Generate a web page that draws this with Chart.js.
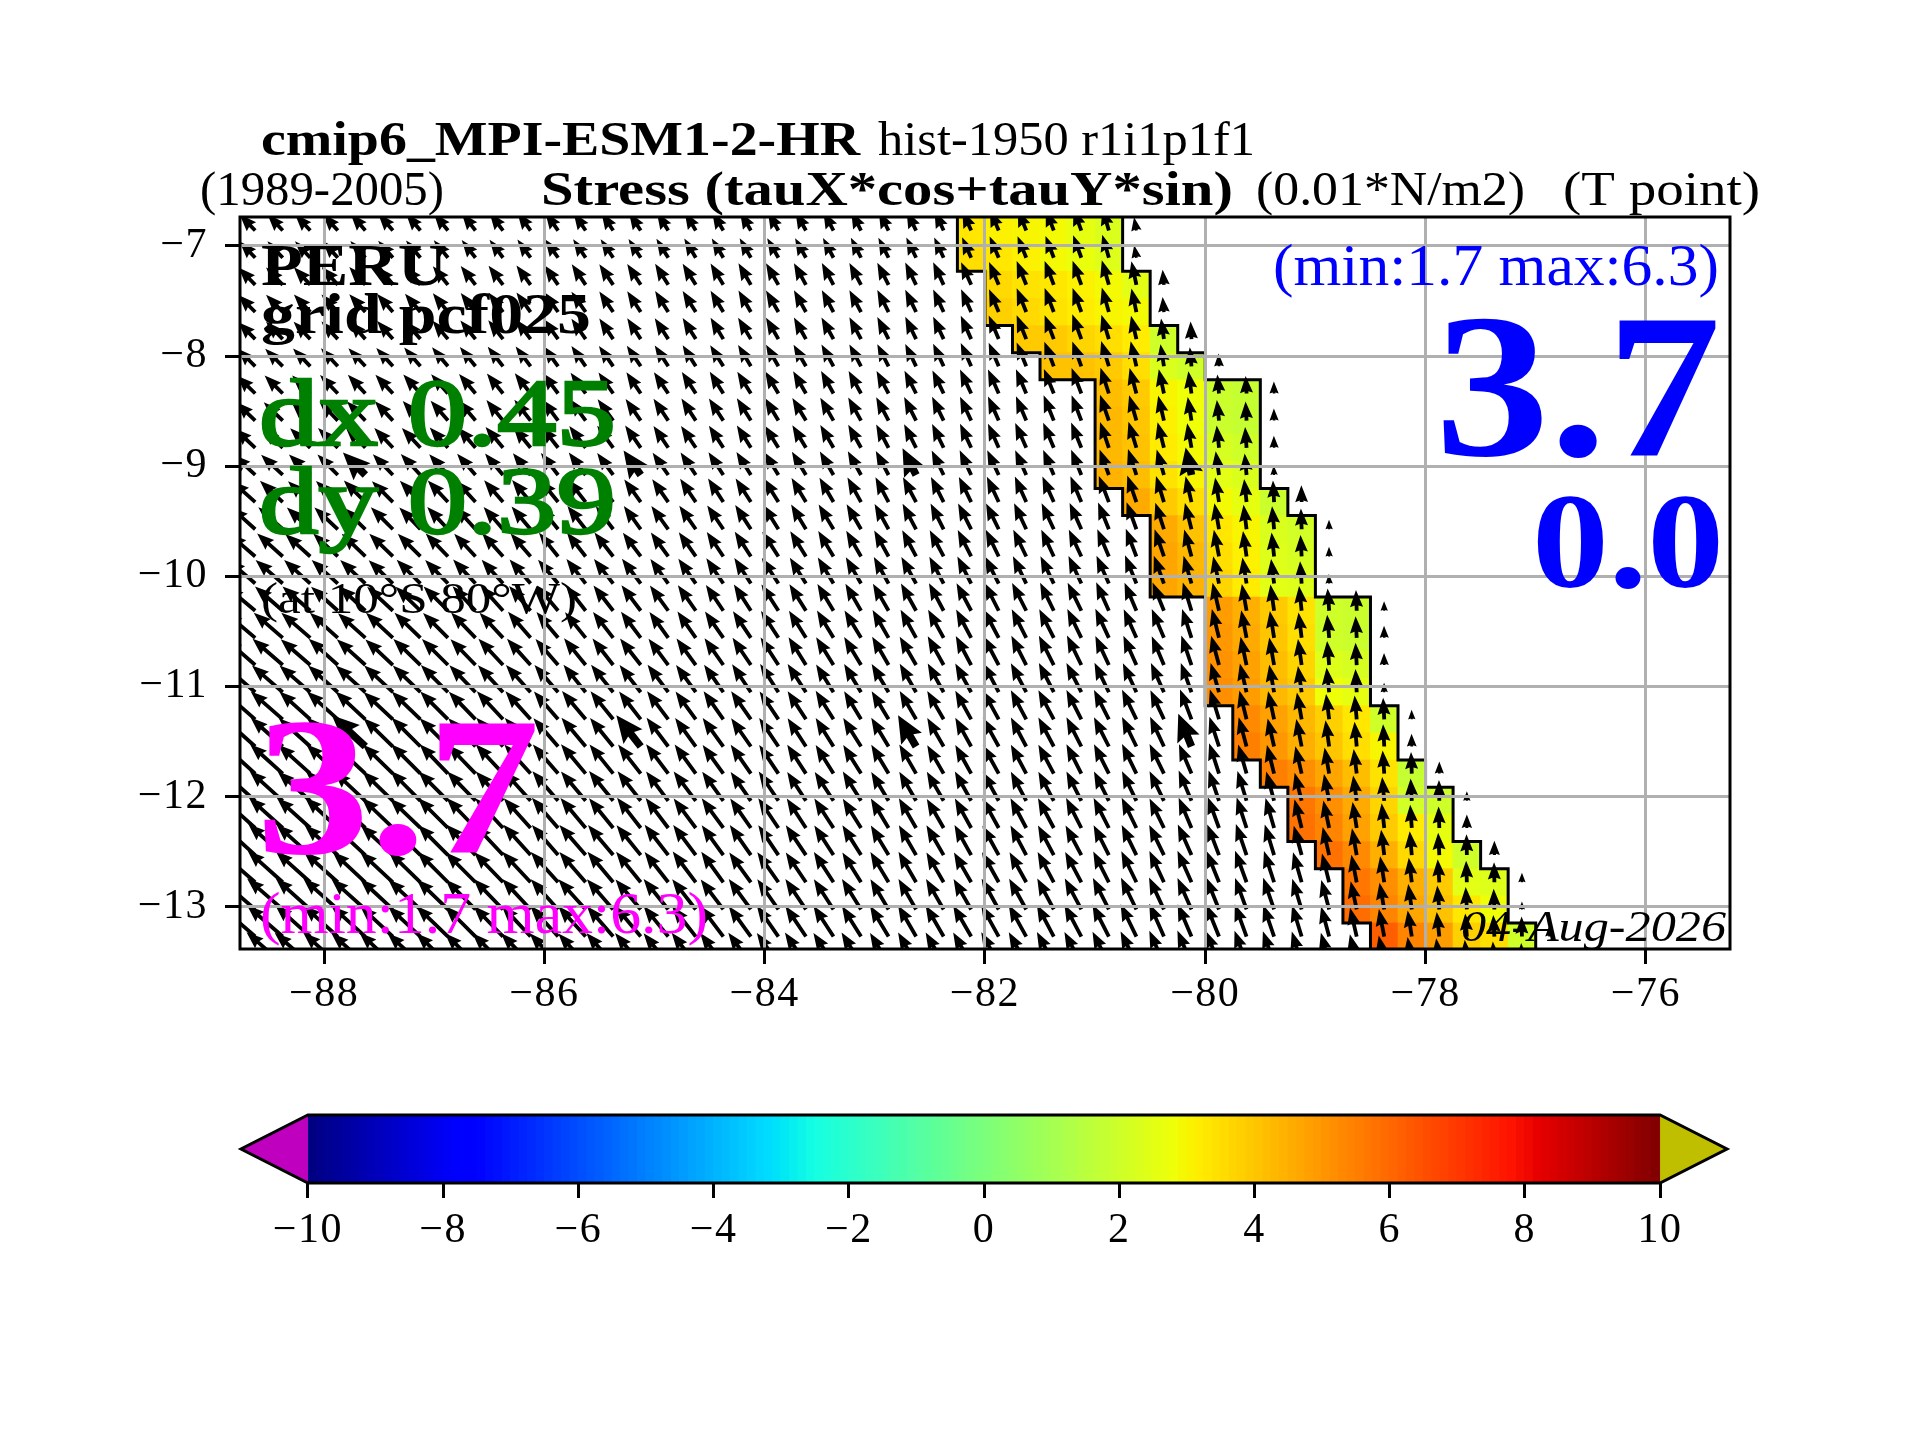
<!DOCTYPE html>
<html>
<head>
<meta charset="utf-8">
<title>cmip6 wind stress PERU</title>
<script src="https://cdn.jsdelivr.net/npm/chart.js@4"></script>
<style>
body { margin: 0; background: #fff; }
canvas { position: absolute; left: 0; }
</style>
</head>
<body>
<canvas id="mapChart" width="1920" height="1440" style="top:0"></canvas>
<canvas id="barChart" width="1920" height="350" style="top:1090px"></canvas>
<script>
// grid of the T points (pcf025)
const colLons = [-88.625,-88.375,-88.125,-87.875,-87.625,-87.375,-87.125,-86.875,-86.625,-86.375,-86.125,-85.875,-85.625,-85.375,-85.125,-84.875,-84.625,-84.375,-84.125,-83.875,-83.625,-83.375,-83.125,-82.875,-82.625,-82.375,-82.125,-81.875,-81.625,-81.375,-81.125,-80.875,-80.625,-80.375,-80.125,-79.875,-79.625,-79.375,-79.125,-78.875,-78.625,-78.375,-78.125,-77.875,-77.625,-77.375,-77.125,-76.875];
const rowLats = [-6.86,-7.107,-7.353,-7.6,-7.846,-8.093,-8.34,-8.586,-8.833,-9.08,-9.326,-9.573,-9.82,-10.066,-10.313,-10.559,-10.806,-11.053,-11.299,-11.546,-11.792,-12.039,-12.286,-12.532,-12.779,-13.026,-13.272,-13.519];
const rowEdges = [-6.737,-6.983,-7.23,-7.477,-7.723,-7.97,-8.216,-8.463,-8.71,-8.956,-9.203,-9.449,-9.696,-9.943,-10.189,-10.436,-10.682,-10.929,-11.176,-11.422,-11.669,-11.916,-12.162,-12.409,-12.656,-12.902,-13.149,-13.395,-13.642];

// stress magnitude, in 0.001 N/m2, one row per latitude, ocean columns then one land column
const windSpeed = [
[28,28,28,28,28,28,28,28,28,28,28,28,27,27,27,27,27,27,27,27,27,27,27,27,27,27,27,28,28,28,29,29,17],
[28,28,28,28,28,28,28,28,28,28,28,28,28,28,28,28,28,28,28,28,28,28,28,28,28,28,28,29,29,29,30,30,16],
[30,30,30,30,30,30,30,30,30,30,30,30,31,31,31,31,31,31,31,31,31,31,31,31,31,31,31,31,32,32,32,32,30,19],
[30,30,30,30,30,30,30,30,30,30,30,30,31,31,31,31,31,31,31,31,31,31,31,31,31,31,31,31,32,32,32,32,30,19],
[30,30,30,30,30,30,30,30,30,30,31,31,31,31,31,31,31,31,31,31,31,31,31,31,31,31,32,32,32,32,33,32,30,26,22],
[31,31,31,31,31,31,31,31,31,31,31,31,31,31,31,31,31,31,31,31,31,31,31,31,31,31,32,32,32,33,33,33,32,28,24,16],
[32,32,32,32,32,32,32,32,32,32,32,32,32,32,32,32,32,32,32,32,32,32,32,32,32,32,33,33,33,33,34,34,33,31,28,24,22,15],
[33,33,33,33,33,33,33,33,33,33,33,33,33,33,33,33,33,33,33,33,33,33,33,33,33,33,33,33,33,34,34,34,33,32,30,26,24,15],
[35,35,35,35,35,34,34,34,34,34,34,34,34,34,34,33,33,33,33,33,33,33,33,33,33,33,33,33,34,34,34,34,34,33,31,28,26,15],
[37,37,37,36,36,36,36,35,35,35,35,35,35,34,34,34,34,34,34,34,34,34,34,34,34,34,34,34,34,34,34,34,34,33,32,30,27,12],
[39,39,38,38,38,37,37,37,36,36,36,36,36,35,35,35,35,35,35,35,35,35,35,35,35,35,35,35,35,35,35,35,35,34,33,31,29,27,21],
[41,41,40,40,39,39,38,38,38,37,37,37,37,36,36,36,36,36,36,36,36,36,36,36,36,36,36,36,36,36,36,36,36,35,34,33,31,29,26,12],
[43,43,42,42,41,41,40,40,39,39,38,38,38,38,37,37,37,37,37,37,37,37,37,37,37,37,37,37,37,37,37,37,37,36,35,34,32,30,27,12],
[45,45,44,44,43,42,42,41,41,40,40,39,39,39,39,38,38,38,38,38,38,38,38,38,38,38,38,38,38,38,38,38,38,37,36,35,33,31,28,12],
[47,46,46,45,45,44,43,43,42,42,41,41,40,40,40,39,39,39,39,39,39,39,39,39,39,39,39,39,39,39,39,39,38,38,37,36,34,33,31,28,26,12],
[49,48,48,47,46,46,45,44,44,43,43,42,41,41,41,40,40,40,40,40,40,40,40,40,40,40,40,40,40,40,40,40,39,39,38,37,35,34,32,29,27,15],
[50,50,49,49,48,47,47,46,45,45,44,43,43,42,42,41,41,41,41,41,41,41,41,41,41,41,41,41,41,41,41,40,40,39,39,38,36,35,33,30,28,15],
[52,51,51,50,50,49,48,48,47,46,46,45,44,44,43,43,42,42,42,42,42,41,41,41,41,41,41,41,41,41,41,41,40,40,39,38,37,35,33,31,29,12],
[53,53,52,52,51,50,50,49,48,48,47,46,46,45,44,44,43,43,43,42,42,42,41,41,41,41,41,41,41,41,41,41,41,40,40,39,37,36,34,32,30,27,12],
[54,54,53,53,52,51,51,50,49,49,48,47,47,46,45,45,44,44,43,43,42,42,42,42,41,41,41,41,41,41,41,41,41,41,40,39,38,36,35,33,31,28,16],
[55,55,54,54,53,52,52,51,50,50,49,48,48,47,46,46,45,44,44,43,43,42,42,42,42,41,41,41,41,41,41,41,41,41,40,40,38,37,35,33,31,29,27,15],
[56,56,55,55,54,53,53,52,51,50,50,49,48,48,47,46,46,45,44,44,43,43,43,42,42,42,42,41,41,41,41,41,41,41,41,40,39,38,36,34,32,30,28,26,12],
[57,57,56,56,55,54,53,53,52,51,50,50,49,48,48,47,46,46,45,45,44,44,43,43,43,42,42,42,42,42,42,42,42,41,41,41,40,39,37,35,33,31,29,27,17],
[58,58,57,56,56,55,54,53,53,52,51,50,50,49,48,48,47,46,46,45,45,44,44,43,43,43,43,42,42,42,42,42,42,42,42,41,41,40,38,36,34,32,30,28,26,18],
[59,59,58,57,56,56,55,54,53,52,52,51,50,50,49,48,48,47,46,46,45,45,44,44,44,43,43,43,43,43,43,43,43,43,43,42,42,41,39,37,35,33,31,29,27,25,12],
[59,59,58,58,57,56,55,54,53,53,52,51,51,50,49,49,48,47,47,46,46,45,45,44,44,44,44,44,44,44,44,44,44,44,43,43,42,42,40,38,36,34,32,30,28,26,10],
[60,59,59,58,57,56,55,55,54,53,53,52,51,50,50,49,48,48,47,47,46,46,45,45,45,45,45,45,45,45,45,45,45,45,44,44,43,42,41,39,37,35,33,31,29,27,25,14],
[60,60,59,58,57,57,56,55,54,54,53,52,51,51,50,49,49,48,48,47,47,46,46,45,45,45,45,45,45,45,45,45,45,45,45,44,44,43,42,40,38,36,34,32,30,28,26,10]
];

// stress direction, degrees west of north
const windAngle = [
[44,43,43,42,41,41,40,39,38,37,36,35,34,33,33,32,31,31,30,29,29,28,27,27,26,25,24,23,22,21,20,16,10],
[44,43,43,42,42,41,40,39,38,37,36,35,34,34,33,32,31,31,30,30,29,28,27,27,26,25,24,23,22,21,20,16,10],
[44,44,43,42,42,41,40,39,38,37,36,35,34,34,33,32,32,31,30,30,29,28,28,27,26,25,24,23,22,21,20,16,12,5],
[45,44,43,43,42,41,40,39,38,37,36,35,35,34,33,32,32,31,30,30,29,28,28,27,26,25,24,23,22,21,20,16,12,5],
[45,44,44,43,42,41,41,40,39,38,37,36,35,34,33,33,32,31,31,30,29,29,28,27,26,25,24,23,22,21,20,17,13,8,3],
[45,45,44,43,43,42,41,40,39,38,37,36,35,35,34,33,32,32,31,30,30,29,28,27,26,25,24,23,22,21,20,17,13,9,5,2],
[46,45,45,44,43,43,42,41,40,39,38,37,36,35,34,34,33,32,32,31,30,29,29,28,27,26,25,24,23,22,21,18,15,12,8,5,3,1],
[46,46,45,44,44,43,42,41,40,39,38,37,36,36,35,34,33,33,32,31,31,30,29,28,27,26,25,24,23,22,21,19,16,13,9,6,3,1],
[47,46,46,45,44,43,43,42,41,40,39,38,37,36,35,34,34,33,32,32,31,30,29,28,27,26,25,24,24,23,22,19,17,14,10,6,4,1],
[47,47,46,45,45,44,43,42,41,40,39,38,37,36,35,35,34,33,32,32,31,30,29,28,27,26,25,25,24,23,22,20,18,16,12,8,5,2],
[48,47,47,46,45,45,44,43,42,41,40,39,38,37,36,35,34,33,33,32,31,30,29,28,28,27,26,25,24,24,23,21,19,17,13,9,6,3,1],
[48,48,47,47,46,45,44,43,42,41,40,39,38,37,36,36,35,34,33,32,31,31,30,29,28,27,27,26,25,25,24,22,20,18,14,10,7,5,2,1],
[49,48,48,47,46,46,45,44,43,42,41,39,38,38,37,36,35,34,33,33,32,31,30,29,28,28,27,26,26,25,25,23,21,19,15,11,8,6,3,1],
[49,49,48,48,47,46,45,44,43,42,41,40,38,38,37,36,35,34,33,33,32,31,30,29,29,28,27,27,26,26,25,24,22,20,16,12,9,7,4,2],
[50,49,49,48,47,47,46,45,43,42,41,40,38,38,37,36,35,34,33,33,32,31,30,30,29,28,28,27,27,26,26,24,23,22,17,13,10,8,6,4,2,1],
[50,49,49,48,48,47,46,45,44,43,41,40,39,38,37,36,35,35,34,33,32,31,31,30,29,29,28,28,27,27,26,25,24,23,18,14,11,9,7,5,3,1],
[49,49,49,48,48,47,46,45,44,43,42,41,39,38,38,37,36,35,34,33,32,32,31,30,30,29,28,28,27,27,26,25,24,23,19,15,12,10,8,5,3,1],
[49,49,49,48,48,47,46,45,44,43,42,41,39,39,38,37,36,35,34,33,33,32,31,31,30,29,29,28,28,27,27,26,25,24,20,16,13,10,8,6,3,1],
[49,49,48,48,47,47,46,45,44,43,42,41,40,39,38,37,36,35,35,34,33,32,31,31,30,30,29,29,28,28,27,27,26,25,21,17,14,12,10,7,5,3,1],
[48,48,48,47,47,46,45,45,44,43,42,41,40,39,38,37,36,36,35,34,33,32,32,31,30,30,29,29,28,28,27,27,26,25,22,18,15,13,11,8,5,3,1],
[48,48,48,47,47,46,45,44,44,43,42,41,40,39,38,37,36,36,35,34,33,32,32,31,30,30,29,29,28,28,27,27,26,26,23,18,16,14,13,10,7,4,2,0],
[48,48,48,47,47,46,45,45,44,43,42,41,40,39,38,37,37,36,35,34,33,33,32,31,30,30,29,29,28,28,27,27,26,26,23,19,17,15,14,11,8,5,3,1,0],
[48,48,48,47,47,46,46,45,44,43,42,41,40,39,38,37,37,36,35,34,33,33,32,31,30,30,29,29,28,28,27,27,26,26,23,20,18,16,14,12,9,6,4,2,0],
[48,48,48,48,47,47,46,45,44,43,42,41,41,40,39,38,37,36,35,34,34,33,32,31,30,30,29,29,28,28,28,27,26,26,24,21,19,17,15,13,10,7,5,3,1,0],
[49,48,48,48,47,47,46,45,45,44,43,42,41,40,39,38,37,36,36,35,34,33,32,31,30,30,30,29,29,28,28,27,26,25,24,22,20,18,16,14,11,9,7,4,2,1,0],
[49,49,48,48,48,47,47,46,45,44,43,42,42,41,40,39,38,37,36,35,34,33,32,31,30,30,30,29,29,28,28,27,26,25,24,22,20,19,17,15,12,10,8,5,3,2,0],
[49,49,48,48,48,47,47,46,45,44,43,42,42,41,40,39,38,37,36,35,34,33,32,31,30,30,30,29,29,28,28,27,26,24,23,22,20,19,17,15,13,11,9,6,4,3,1,0],
[49,49,49,48,48,47,47,46,45,45,44,43,42,41,40,39,38,37,36,35,34,33,32,31,30,30,30,29,29,28,28,27,26,24,23,22,20,19,17,15,13,11,9,7,5,4,2,0]
];

// arrows plotted twice as heavy
const boldCols = [4, 14, 24, 34];
const boldRows = [9, 19];

// first coloured column of each row, and the six coloured values from there
const stressStart = [26,26,27,27,28,29,31,31,31,31,32,33,33,33,35,35,35,35,36,36,37,38,38,39,40,40,41,41];
const stressRows = [
[3.3,3.1,3.0,2.9,2.6,2.3],
[3.5,3.3,3.1,2.9,2.7,2.4],
[3.6,3.4,3.3,3.1,2.9,2.5],
[3.8,3.6,3.4,3.2,3.0,2.9],
[3.9,3.9,3.7,3.5,3.2,2.0],
[4.1,4.1,3.9,3.5,2.3,2.0],
[4.2,3.9,3.0,2.8,1.9,1.8],
[4.3,4.0,3.1,2.8,1.9,1.8],
[4.3,4.1,3.2,2.9,2.2,2.0],
[4.4,4.2,3.4,3.0,2.5,2.3],
[4.6,3.9,3.5,2.9,2.6,1.9],
[4.6,4.1,3.3,3.0,2.3,2.1],
[4.7,4.3,3.5,3.1,2.4,2.2],
[4.7,4.4,3.7,3.2,2.5,2.4],
[4.9,4.5,3.9,3.4,2.0,1.9],
[5.0,4.6,4.0,3.5,2.0,1.9],
[5.1,4.8,4.2,3.7,2.4,2.2],
[5.2,4.9,4.3,3.9,2.8,2.6],
[5.3,4.8,4.3,3.8,3.3,2.0],
[5.5,5.0,4.5,4.0,3.5,3.0],
[5.5,5.2,4.7,4.2,3.4,1.8],
[5.7,5.2,4.6,3.7,2.1,2.0],
[5.8,5.4,4.8,3.9,3.2,2.6],
[5.8,5.3,4.5,3.6,2.9,2.0],
[5.7,5.2,4.5,3.9,2.5,2.4],
[5.9,5.4,4.7,4.1,3.3,2.8],
[6.2,5.4,4.9,3.8,3.5,2.0],
[6.3,5.5,5.0,3.9,3.6,2.1]
];

const xTickValues = [-88,-86,-84,-82,-80,-78,-76];
const yTickValues = [-13,-12,-11,-10,-9,-8,-7];
const cbarTickValues = [-10,-8,-6,-4,-2,0,2,4,6,8,10];
const cbarLevels = [-9.94,-9.81,-9.69,-9.56,-9.44,-9.31,-9.19,-9.06,-8.94,-8.81,-8.69,-8.56,-8.44,-8.31,-8.19,-8.06,-7.94,-7.81,-7.69,-7.56,-7.44,-7.31,-7.19,-7.06,-6.94,-6.81,-6.69,-6.56,-6.44,-6.31,-6.19,-6.06,-5.94,-5.81,-5.69,-5.56,-5.44,-5.31,-5.19,-5.06,-4.94,-4.81,-4.69,-4.56,-4.44,-4.31,-4.19,-4.06,-3.94,-3.81,-3.69,-3.56,-3.44,-3.31,-3.19,-3.06,-2.94,-2.81,-2.69,-2.56,-2.44,-2.31,-2.19,-2.06,-1.94,-1.81,-1.69,-1.56,-1.44,-1.31,-1.19,-1.06,-0.94,-0.81,-0.69,-0.56,-0.44,-0.31,-0.19,-0.06,0.06,0.19,0.31,0.44,0.56,0.69,0.81,0.94,1.06,1.19,1.31,1.44,1.56,1.69,1.81,1.94,2.06,2.19,2.31,2.44,2.56,2.69,2.81,2.94,3.06,3.19,3.31,3.44,3.56,3.69,3.81,3.94,4.06,4.19,4.31,4.44,4.56,4.69,4.81,4.94,5.06,5.19,5.31,5.44,5.56,5.69,5.81,5.94,6.06,6.19,6.31,6.44,6.56,6.69,6.81,6.94,7.06,7.19,7.31,7.44,7.56,7.69,7.81,7.94,8.06,8.19,8.31,8.44,8.56,8.69,8.81,8.94,9.06,9.19,9.31,9.44,9.56,9.69,9.81,9.94];

const SERIF = '"Liberation Serif"';
const PX_PER_SPEED = 0.8;
const TICK_SPACING = '1.5px';

// matplotlib jet between -10 and 10
function piece(t, knots) {
    for (let i = 1; i < knots.length; i++) {
        if (t <= knots[i][0]) {
            const a = knots[i - 1], b = knots[i];
            return a[1] + (b[1] - a[1]) * (t - a[0]) / (b[0] - a[0]);
        }
    }
    return knots[knots.length - 1][1];
}
function jet(v) {
    const t = (v + 10) / 20;
    const r = piece(t, [[0,0],[.35,0],[.66,1],[.89,1],[1,.5]]);
    const g = piece(t, [[0,0],[.125,0],[.375,1],[.64,1],[.91,0],[1,0]]);
    const b = piece(t, [[0,.5],[.11,1],[.34,1],[.65,0],[1,0]]);
    return `rgb(${Math.round(r * 255)},${Math.round(g * 255)},${Math.round(b * 255)})`;
}

function minusLabel(v) {
    return v < 0 ? '\u2212' + Math.abs(v) : String(v);
}

// table data for the chart
const cellData = [], cellColors = [], coastLeft = [], coastRight = [], arrowData = [];
stressRows.forEach((row, r) => {
    row.forEach((v, k) => {
        cellData.push({x: colLons[stressStart[r] + k], y: [rowEdges[r + 1], rowEdges[r]]});
        cellColors.push(jet(v));
    });
    const left = colLons[stressStart[r]] - 0.125;
    const right = colLons[stressStart[r] + row.length - 1] + 0.125;
    coastLeft.push({x: left, y: rowEdges[r]}, {x: left, y: rowEdges[r + 1]});
    coastRight.push({x: right, y: rowEdges[r]}, {x: right, y: rowEdges[r + 1]});
});
windSpeed.forEach((row, r) => {
    row.forEach((s, c) => {
        arrowData.push({
            x: colLons[c], y: rowLats[r], speed: s, angle: windAngle[r][c],
            bold: boldCols.includes(c) && boldRows.includes(r)
        });
    });
});

function drawArrow(ctx, px, py, pt) {
    const w = pt.bold ? 7.6 : 3.8, hw = pt.bold ? 24 : 13, hl = pt.bold ? 27 : 17, hal = pt.bold ? 24 : 15.5;
    const len = pt.speed * PX_PER_SPEED * (pt.bold ? 1.1 : 1);
    const k = len < hl ? len / hl : 1;
    ctx.save();
    ctx.translate(px, py);
    ctx.rotate(-Math.PI / 2 - pt.angle * Math.PI / 180);
    ctx.beginPath();
    ctx.moveTo(0, -w * k / 2);
    ctx.lineTo(len - hal * k, -w * k / 2);
    ctx.lineTo(len - hl * k, -hw * k / 2);
    ctx.lineTo(len, 0);
    ctx.lineTo(len - hl * k, hw * k / 2);
    ctx.lineTo(len - hal * k, w * k / 2);
    ctx.lineTo(0, w * k / 2);
    ctx.closePath();
    ctx.fill();
    ctx.restore();
}

const quiverPlugin = {
    id: 'quiver',
    beforeDraw(chart) {
        chart.ctx.letterSpacing = TICK_SPACING;
    },
    afterDatasetsDraw(chart) {
        const ctx = chart.ctx, area = chart.chartArea;
        const meta = chart.getDatasetMeta(0);
        ctx.save();
        ctx.beginPath();
        ctx.rect(area.left, area.top, area.right - area.left, area.bottom - area.top);
        ctx.clip();
        ctx.fillStyle = '#000';
        meta.data.forEach((el, i) => drawArrow(ctx, el.x, el.y, arrowData[i]));
        ctx.restore();
    }
};

// text squeezed or stretched to the width it takes in the picture
function fitText(ctx, text, x0, x1, base, font, color, heavy) {
    ctx.save();
    ctx.letterSpacing = '0px';
    ctx.font = font;
    ctx.fillStyle = color;
    ctx.textAlign = 'left';
    ctx.textBaseline = 'alphabetic';
    const w = ctx.measureText(text).width;
    ctx.translate(x0, base);
    ctx.scale((x1 - x0) / w, 1);
    ctx.fillText(text, 0, 0);
    if (heavy) {
        ctx.strokeStyle = color;
        ctx.lineWidth = heavy;
        ctx.strokeText(text, 0, 0);
    }
    ctx.restore();
}

const labelPlugin = {
    id: 'labels',
    afterDraw(chart) {
        const ctx = chart.ctx, a = chart.chartArea;
        ctx.save();
        ctx.strokeStyle = '#000';
        ctx.lineWidth = 3;
        ctx.strokeRect(a.left, a.top, a.right - a.left, a.bottom - a.top);
        ctx.restore();
        fitText(ctx, 'cmip6_MPI-ESM1-2-HR', 261, 860, 155, `bold 48px ${SERIF}`, '#000');
        fitText(ctx, 'hist-1950 r1i1p1f1', 878, 1255, 155, `48px ${SERIF}`, '#000');
        fitText(ctx, '(1989-2005)', 200, 444, 205, `48px ${SERIF}`, '#000');
        fitText(ctx, 'Stress (tauX*cos+tauY*sin)', 541, 1233, 205, `bold 48px ${SERIF}`, '#000');
        fitText(ctx, '(0.01*N/m2)', 1256, 1525, 205, `48px ${SERIF}`, '#000');
        fitText(ctx, '(T point)', 1563, 1760, 205, `48px ${SERIF}`, '#000');
        fitText(ctx, 'PERU', 261, 447, 285, `bold 60px ${SERIF}`, '#000');
        fitText(ctx, 'grid pcf025', 261, 591, 333, `bold 56px ${SERIF}`, '#000');
        fitText(ctx, 'dx 0.45', 259, 616, 445, `96px ${SERIF}`, '#008000', 2.5);
        fitText(ctx, 'dy 0.39', 259, 616, 533, `96px ${SERIF}`, '#008000', 2.5);
        fitText(ctx, '(at 10\u00b0S 80\u00b0W)', 261, 577, 613, `44px ${SERIF}`, '#000');
        fitText(ctx, '3.7', 256, 540, 853, `bold 197px ${SERIF}`, '#ff00ff');
        fitText(ctx, '(min:1.7 max:6.3)', 260, 708, 933, `60px ${SERIF}`, '#ff00ff');
        fitText(ctx, '(min:1.7 max:6.3)', 1273, 1719, 285, `60px ${SERIF}`, '#0000ff');
        fitText(ctx, '3.7', 1435, 1721, 455, `bold 205px ${SERIF}`, '#0000ff');
        fitText(ctx, '0.0', 1532, 1724, 587, `bold 135px ${SERIF}`, '#0000ff');
        fitText(ctx, '04-Aug-2026', 1461, 1726, 941, `italic 44px ${SERIF}`, '#000');
    }
};

new Chart(document.getElementById('mapChart').getContext('2d'), {
    type: 'bar',
    data: {
        datasets: [
            {type: 'scatter', label: 'stress vectors', data: arrowData, pointRadius: 0, order: 0},
            {type: 'scatter', label: 'mask left', data: coastLeft, showLine: true, pointRadius: 0,
             borderColor: '#000', borderWidth: 3, order: 1},
            {type: 'scatter', label: 'mask right', data: coastRight, showLine: true, pointRadius: 0,
             borderColor: '#000', borderWidth: 3, order: 1},
            {type: 'bar', label: 'stress', data: cellData, backgroundColor: cellColors,
             barThickness: 27.6, grouped: false, order: 2}
        ]
    },
    options: {
        responsive: false,
        animation: false,
        devicePixelRatio: 1,
        events: [],
        layout: {padding: {left: 0, right: 190, top: 217, bottom: 0}},
        plugins: {legend: {display: false}, tooltip: {enabled: false}},
        scales: {
            x: {
                type: 'linear', offset: false, min: -88.763, max: -75.236,
                afterBuildTicks: s => { s.ticks = xTickValues.map(v => ({value: v})); },
                afterFit: s => { s.height = 491; },
                grid: {offset: false, color: '#b0b0b0', lineWidth: 3, z: 1, tickColor: '#000', tickLength: 15, tickWidth: 3},
                border: {display: false},
                ticks: {
                    color: '#000', font: {family: 'Liberation Serif', size: 42}, padding: 6,
                    maxRotation: 0, autoSkip: false, callback: v => minusLabel(v)
                }
            },
            y: {
                type: 'linear', min: -13.385, max: -6.737,
                afterBuildTicks: s => { s.ticks = yTickValues.map(v => ({value: v})); },
                afterFit: s => { s.width = 240; },
                grid: {color: '#b0b0b0', lineWidth: 3, z: 1, tickColor: '#000', tickLength: 15, tickWidth: 3},
                border: {display: false},
                ticks: {
                    color: '#000', font: {family: 'Liberation Serif', size: 42}, padding: 17,
                    autoSkip: false, callback: v => minusLabel(v)
                }
            }
        }
    },
    plugins: [quiverPlugin, labelPlugin]
});

// colour bar with its two extension triangles
const extendPlugin = {
    id: 'extend',
    beforeDraw(chart) {
        chart.ctx.letterSpacing = TICK_SPACING;
    },
    afterDatasetsDraw(chart) {
        const ctx = chart.ctx, a = chart.chartArea, sx = chart.scales.x;
        const lo = sx.getPixelForValue(-10), hi = sx.getPixelForValue(10);
        const mid = (a.top + a.bottom) / 2;
        ctx.save();
        ctx.fillStyle = '#bf00bf';
        ctx.beginPath();
        ctx.moveTo(lo, a.top); ctx.lineTo(a.left, mid); ctx.lineTo(lo, a.bottom);
        ctx.closePath(); ctx.fill();
        ctx.fillStyle = '#bfbf00';
        ctx.beginPath();
        ctx.moveTo(hi, a.top); ctx.lineTo(a.right, mid); ctx.lineTo(hi, a.bottom);
        ctx.closePath(); ctx.fill();
        ctx.strokeStyle = '#000';
        ctx.lineWidth = 3;
        ctx.lineJoin = 'miter';
        ctx.beginPath();
        ctx.moveTo(lo, a.top); ctx.lineTo(hi, a.top); ctx.lineTo(a.right, mid);
        ctx.lineTo(hi, a.bottom); ctx.lineTo(lo, a.bottom); ctx.lineTo(a.left, mid);
        ctx.closePath(); ctx.stroke();
        ctx.restore();
    }
};

new Chart(document.getElementById('barChart').getContext('2d'), {
    type: 'bar',
    data: {
        datasets: [{
            data: cbarLevels.map(v => ({x: v, y: 1})),
            backgroundColor: cbarLevels.map(jet),
            barThickness: 9
        }]
    },
    options: {
        responsive: false,
        animation: false,
        devicePixelRatio: 1,
        events: [],
        layout: {padding: {left: 241, right: 193, top: 25, bottom: 0}},
        plugins: {legend: {display: false}, tooltip: {enabled: false}},
        scales: {
            x: {
                type: 'linear', offset: false, min: -10.99, max: 10.99,
                afterBuildTicks: s => { s.ticks = cbarTickValues.map(v => ({value: v})); },
                afterFit: s => { s.height = 257; },
                grid: {offset: false, drawOnChartArea: false, tickColor: '#000', tickLength: 15, tickWidth: 3},
                border: {display: false},
                ticks: {
                    color: '#000', font: {family: 'Liberation Serif', size: 42}, padding: 8,
                    maxRotation: 0, autoSkip: false, callback: v => minusLabel(v)
                }
            },
            y: {display: false, min: 0, max: 1}
        }
    },
    plugins: [extendPlugin]
});
</script>
</body>
</html>
